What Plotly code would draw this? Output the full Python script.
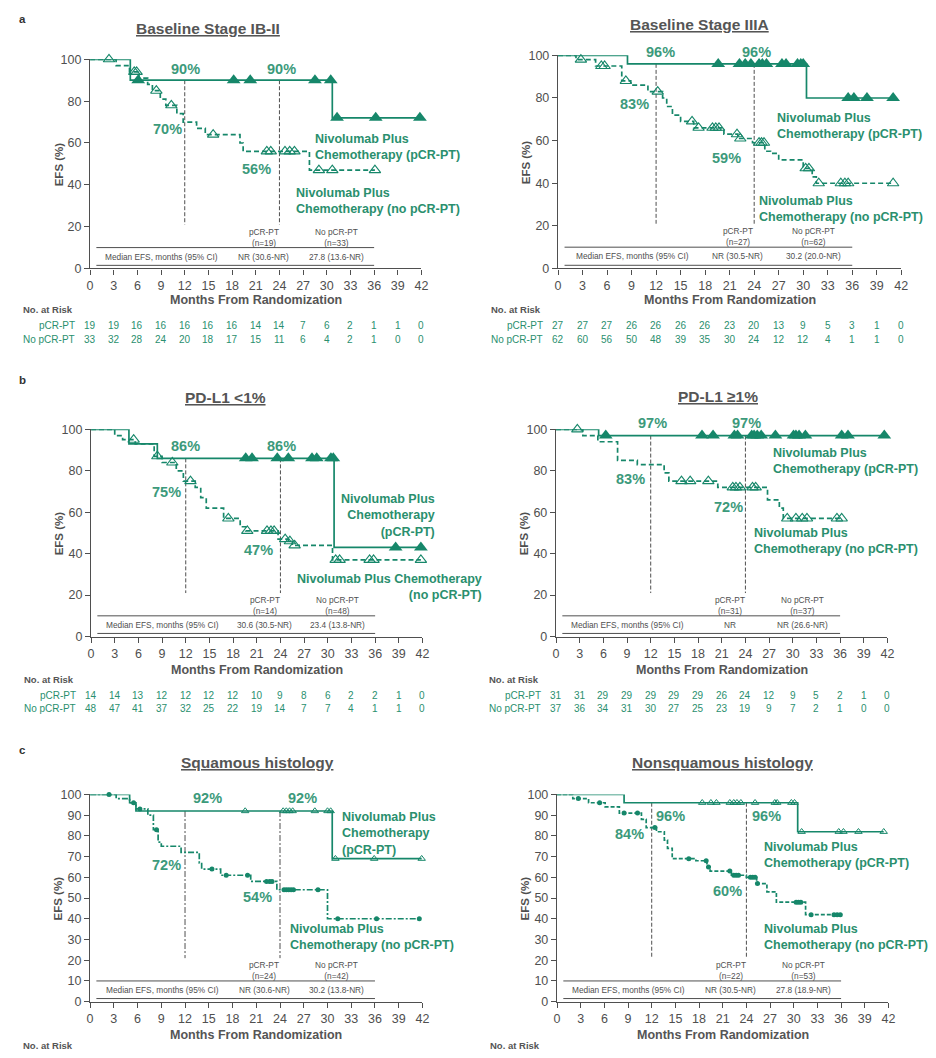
import numpy as np
import plotly.graph_objects as go

W, H = 936, 1058
GREEN = "#16876a"
GREEN_TXT = "#2a8f6e"
PCT_TXT = "#3c9a7b"
INK = "#4f4f4f"
FONT = "Liberation Sans"

months = list(range(0, 43, 3))
landmark_months = [12, 24]

# ---------------- a: baseline stage IB-II ----------------
ib_pcr_t = [5.1, 30.7]
ib_pcr_s = [90, 72]
ib_pcr_c = [6.1, 18.2, 20.3, 28.5, 30.5, 31.3, 36.2, 41.8]
ib_nopcr_t = [3.3, 5.0, 6.2, 7.3, 7.9, 8.9, 9.6, 11.0, 11.8, 13.5, 14.6, 19.0, 19.4, 27.8]
ib_nopcr_s = [97, 94, 91, 88, 85, 81, 78, 74, 70, 67, 64, 60, 56, 47]
ib_nopcr_c = [2.4, 5.6, 5.9, 8.4, 10.3, 15.6, 22.4, 22.9, 24.7, 25.3, 25.9, 29.0, 30.7, 36.1]
ib_efs_pcr = [90, 90]
ib_efs_nopcr = [70, 56]
ib_n = [19, 33]
ib_median = ["NR (30.6-NR)", "27.8 (13.6-NR)"]
ib_risk_pcr = [19, 19, 16, 16, 16, 16, 16, 14, 14, 7, 6, 2, 1, 1, 0]
ib_risk_nopcr = [33, 32, 28, 24, 20, 18, 17, 15, 11, 6, 4, 2, 1, 0, 0]

# ---------------- a: baseline stage IIIA ----------------
iiia_pcr_t = [8.5, 30.4]
iiia_pcr_s = [96, 80]
iiia_pcr_c = [19.6, 22.2, 22.9, 23.6, 24.6, 25.0, 25.5, 27.4, 27.9, 29.3, 29.7, 30.0,
              35.5, 36.2, 37.8, 41.0]
iiia_nopcr_t = [2.2, 4.6, 7.8, 8.9, 11.0, 12.8, 13.3, 14.0, 15.0, 16.6, 20.3, 22.0,
                23.8, 25.3, 26.0, 27.0, 30.0, 31.1, 31.6]
iiia_nopcr_s = [98, 95, 88, 86, 83, 80, 76, 72, 69, 66, 63, 61, 59, 55, 54, 51, 47, 43, 40]
iiia_nopcr_c = [2.8, 5.3, 5.7, 8.3, 12.2, 16.4, 17.2, 18.9, 19.3, 19.7, 21.9, 22.3,
                24.6, 24.9, 25.2, 30.3, 30.7, 31.9, 34.6, 35.1, 35.5, 41.0]
iiia_efs_pcr = [96, 96]
iiia_efs_nopcr = [83, 59]
iiia_n = [27, 62]
iiia_median = ["NR (30.5-NR)", "30.2 (20.0-NR)"]
iiia_risk_pcr = [27, 27, 27, 26, 26, 26, 26, 23, 20, 13, 9, 5, 3, 1, 0]
iiia_risk_nopcr = [62, 60, 56, 50, 48, 39, 35, 30, 24, 12, 12, 4, 1, 1, 0]

# ---------------- b: PD-L1 <1% ----------------
neg_pcr_t = [4.8, 8.4, 30.8]
neg_pcr_s = [93, 86, 43]
neg_pcr_c = [19.6, 20.4, 23.6, 25.0, 28.0, 28.6, 30.4, 30.7, 38.6, 41.8]
neg_nopcr_t = [3.0, 4.0, 5.6, 8.0, 9.0, 10.8, 11.7, 13.2, 13.9, 14.6, 16.8, 18.9,
               19.6, 23.7, 25.0, 25.5, 30.6]
neg_nopcr_s = [97, 95, 93, 87, 84, 80, 75, 72, 67, 62, 57, 53, 51, 47, 46, 44, 37]
neg_nopcr_c = [5.4, 8.4, 10.3, 12.6, 17.4, 19.8, 22.3, 22.8, 23.2, 24.6, 25.2, 25.8,
               31.0, 31.5, 35.3, 35.8, 41.8]
neg_efs_pcr = [86, 86]
neg_efs_nopcr = [75, 47]
neg_n = [14, 48]
neg_median = ["30.6 (30.5-NR)", "23.4 (13.8-NR)"]
neg_risk_pcr = [14, 14, 13, 12, 12, 12, 12, 10, 9, 8, 6, 2, 2, 1, 0]
neg_risk_nopcr = [48, 47, 41, 37, 32, 25, 22, 19, 14, 7, 7, 4, 1, 1, 0]

# ---------------- b: PD-L1 >=1% ----------------
pos_pcr_t = [5.4]
pos_pcr_s = [97]
pos_pcr_c = [6.3, 18.5, 19.9, 22.6, 23.0, 24.8, 25.1, 25.5, 26.0, 27.8, 30.1, 30.4,
             30.8, 31.6, 36.2, 37.0, 41.6]
pos_nopcr_t = [3.4, 5.3, 7.8, 10.3, 13.7, 14.3, 20.5, 26.8, 28.3, 28.8]
pos_nopcr_s = [97, 94, 85, 83, 79, 75, 72, 66, 62, 57]
pos_nopcr_c = [2.7, 15.9, 17.0, 19.3, 22.4, 22.8, 23.3, 24.9, 25.3, 29.3, 30.4, 31.2,
               31.8, 35.6, 36.2]
pos_efs_pcr = [97, 97]
pos_efs_nopcr = [83, 72]
pos_n = [31, 37]
pos_median = ["NR", "NR (26.6-NR)"]
pos_risk_pcr = [31, 31, 29, 29, 29, 29, 29, 26, 24, 12, 9, 5, 2, 1, 0]
pos_risk_nopcr = [37, 36, 34, 31, 30, 27, 25, 23, 19, 9, 7, 2, 1, 0, 0]

# ---------------- c: squamous histology ----------------
sq_pcr_t = [5.0, 5.8, 30.6]
sq_pcr_s = [96, 92, 69]
sq_pcr_c = [19.6, 24.4, 24.8, 25.2, 25.6, 28.4, 30.0, 30.4, 31.0, 35.9, 41.9]
sq_nopcr_t = [3.3, 5.0, 5.8, 7.3, 8.0, 8.6, 9.0, 11.5, 13.8, 14.1, 16.5, 20.3, 23.6, 30.0]
sq_nopcr_s = [98, 96, 93, 90, 83, 77, 75, 72, 67, 64, 61, 58, 54, 40]
sq_nopcr_c = [2.4, 5.5, 6.3, 8.4, 15.4, 17.2, 19.9, 22.3, 22.7, 23.0, 24.5, 24.8, 25.1,
              25.4, 25.7, 28.8, 31.3, 36.2, 41.6]
sq_efs_pcr = [92, 92]
sq_efs_nopcr = [72, 54]
sq_n = [24, 42]
sq_median = ["NR (30.6-NR)", "30.2 (13.8-NR)"]

# ---------------- c: nonsquamous histology ----------------
nsq_pcr_t = [8.5, 30.5]
nsq_pcr_s = [96, 82]
nsq_pcr_c = [18.4, 19.5, 20.2, 21.9, 22.4, 22.8, 23.3, 25.1, 27.6, 27.9, 29.7, 30.1,
             31.0, 35.7, 36.3, 38.2, 41.4]
nsq_nopcr_t = [2.0, 4.0, 6.1, 7.9, 10.7, 11.3, 12.6, 13.6, 14.0, 14.6, 17.6, 19.0, 19.4,
               22.1, 24.0, 25.3, 26.6, 27.8, 31.5]
nsq_nopcr_s = [98, 96, 94, 91, 88, 84, 82, 78, 74, 69, 68, 65, 63, 61, 60, 57, 53, 48, 42]
nsq_nopcr_c = [2.7, 5.4, 8.5, 10.2, 12.4, 16.7, 18.9, 19.2, 21.9, 22.4, 22.7, 23.0, 24.5,
               24.8, 25.1, 25.4, 30.3, 30.6, 30.9, 32.2, 35.1, 35.5, 35.9]
nsq_efs_pcr = [96, 96]
nsq_efs_nopcr = [84, 60]
nsq_n = [22, 53]
nsq_median = ["NR (30.5-NR)", "27.8 (18.9-NR)"]

LEG2 = "Nivolumab Plus<br>Chemotherapy (pCR-PT)"
LEG2N = "Nivolumab Plus<br>Chemotherapy (no pCR-PT)"
LEG3 = "Nivolumab Plus<br>Chemotherapy<br>(pCR-PT)"

# panel set-up: pixel boxes of the plotting areas, label placements, styles
panels = [
    dict(title="Baseline Stage IB-II", title_xy=(207, 22), box=(88, 423, 53, 265), ystep=20,
         pcr=(ib_pcr_t, ib_pcr_s, ib_pcr_c), nopcr=(ib_nopcr_t, ib_nopcr_s, ib_nopcr_c),
         efs=(ib_efs_pcr, ib_efs_nopcr), n=ib_n, median=ib_median,
         risk=(ib_risk_pcr, ib_risk_nopcr), style="ab",
         pct_pos=[(12.1, 95.5), (24.2, 95.5), (9.8, 66.5), (21.1, 47.5)],
         leg=[(28.2, 58, "left", LEG2), (25.9, 32.5, "left", LEG2N)]),
    dict(title="Baseline Stage IIIA", title_xy=(704, 18), box=(561, 908, 49, 265), ystep=20,
         pcr=(iiia_pcr_t, iiia_pcr_s, iiia_pcr_c), nopcr=(iiia_nopcr_t, iiia_nopcr_s, iiia_nopcr_c),
         efs=(iiia_efs_pcr, iiia_efs_nopcr), n=iiia_n, median=iiia_median,
         risk=(iiia_risk_pcr, iiia_risk_nopcr), style="ab",
         pct_pos=[(12.6, 101.5), (24.3, 101.5), (9.35, 77), (20.6, 52)],
         leg=[(26.5, 67, "left", LEG2), (24.3, 28, "left", LEG2N)]),
    dict(title="PD-L1 &lt;1%", title_xy=(225, 396), box=(89, 424, 428, 638), ystep=20,
         pcr=(neg_pcr_t, neg_pcr_s, neg_pcr_c), nopcr=(neg_nopcr_t, neg_nopcr_s, neg_nopcr_c),
         efs=(neg_efs_pcr, neg_efs_nopcr), n=neg_n, median=neg_median,
         risk=(neg_risk_pcr, neg_risk_nopcr), style="ab",
         pct_pos=[(12.0, 92), (24.1, 92), (9.6, 70), (21.2, 42)],
         leg=[(43.8, 58.5, "right", LEG3),
              (49.8, 23.8, "right", "Nivolumab Plus Chemotherapy<br>(no pCR-PT)")]),
    dict(title="PD-L1 ≥1%", title_xy=(723, 395), box=(559, 894, 428, 638), ystep=20,
         pcr=(pos_pcr_t, pos_pcr_s, pos_pcr_c), nopcr=(pos_nopcr_t, pos_nopcr_s, pos_nopcr_c),
         efs=(pos_efs_pcr, pos_efs_nopcr), n=pos_n, median=pos_median,
         risk=(pos_risk_pcr, pos_risk_nopcr), style="ab",
         pct_pos=[(12.2, 103), (24.1, 103), (9.5, 76), (21.8, 62.5)],
         leg=[(27.2, 84.6, "left", LEG2), (24.8, 46.2, "left", LEG2N)]),
    dict(title="Squamous histology", title_xy=(257, 766), box=(88, 424, 798, 1008), ystep=10,
         pcr=(sq_pcr_t, sq_pcr_s, sq_pcr_c), nopcr=(sq_nopcr_t, sq_nopcr_s, sq_nopcr_c),
         efs=(sq_efs_pcr, sq_efs_nopcr), n=sq_n, median=sq_median,
         risk=None, style="c1",
         pct_pos=[(14.8, 98.4), (26.8, 98.4), (9.6, 66), (21.1, 50.3)],
         leg=[(31.6, 81, "left", LEG3), (25.0, 31, "left", LEG2N)]),
    dict(title="Nonsquamous histology", title_xy=(727, 766), box=(560, 895, 798, 1008), ystep=10,
         pcr=(nsq_pcr_t, nsq_pcr_s, nsq_pcr_c), nopcr=(nsq_nopcr_t, nsq_nopcr_s, nsq_nopcr_c),
         efs=(nsq_efs_pcr, nsq_efs_nopcr), n=nsq_n, median=nsq_median,
         risk=None, style="c2",
         pct_pos=[(14.4, 89.7), (26.6, 89.7), (9.2, 81), (21.6, 53.2)],
         leg=[(26.0, 71, "left", LEG2), (26.0, 31, "left", LEG2N)]),
]

# section letters and rows of the risk tables (pixel rows)
sections = [("a", 12, 297, 307, 323, 337), ("b", 378, 672, 682, 698, 711),
            ("c", 753, 1042, 1052, None, None)]

STYLES = {
    "ab": dict(pcr_dash="solid", pcr_marker=dict(symbol="triangle-up", size=12, color=GREEN),
               nopcr_dash="5px,3px",
               nopcr_marker=dict(symbol="triangle-up-open", size=10, color=GREEN,
                                 line=dict(width=1.1, color=GREEN)),
               vdash="4px,2px"),
    "c1": dict(pcr_dash="solid",
               pcr_marker=dict(symbol="triangle-up-open", size=6.5, color=GREEN,
                               line=dict(width=1, color=GREEN)),
               nopcr_dash="6px,2px,2px,2px",
               nopcr_marker=dict(symbol="circle", size=5, color=GREEN),
               vdash="6px,2px,2px,2px"),
    "c2": dict(pcr_dash="solid",
               pcr_marker=dict(symbol="triangle-up-open", size=6.5, color=GREEN,
                               line=dict(width=1, color=GREEN)),
               nopcr_dash="4px,2px",
               nopcr_marker=dict(symbol="circle", size=5, color=GREEN),
               vdash="4px,2px"),
}


def px(x):
    return x / W


def py(y):
    return 1 - y / H


def km_value(times, surv, t):
    levels = np.concatenate([[100.0], np.asarray(surv, float)])
    idx = np.searchsorted(np.asarray(times, float), np.asarray(t, float), side="right")
    return levels[idx]


fig = go.Figure()
ann = []
axes = {}


def text(x, y, s, size, color=INK, xref="paper", yref="paper", xanchor="center",
         yanchor="middle", align="center", bold=False, angle=0, under=False):
    f = dict(family=FONT, size=size, color=color)
    if bold:
        f["weight"] = "bold"
    if under:
        f["lineposition"] = "under"
    ann.append(dict(x=x, y=y, xref=xref, yref=yref, text=s, showarrow=False, font=f,
                    xanchor=xanchor, yanchor=yanchor, align=align, textangle=angle))


for i, p in enumerate(panels, start=1):
    sfx = "" if i == 1 else str(i)
    xr, yr = f"x{sfx}", f"y{sfx}"
    x0, x1, y0, y1 = p["box"]

    def dpos(mx, ev):
        # month / EFS value -> paper coordinates of this panel (labels may sit outside the axes)
        return px(x0 + mx * (x1 - x0) / 42), py(y1 - ev * (y1 - y0) / 100)

    axis_common = dict(showline=True, linecolor=INK, linewidth=1.4, ticks="outside",
                       ticklen=5, tickwidth=1.3, tickcolor=INK, showgrid=False,
                       zeroline=False, fixedrange=True,
                       tickfont=dict(family=FONT, size=12.5, color=INK))
    axes[f"xaxis{sfx}"] = dict(domain=[px(x0), px(x1)], anchor=yr, range=[0, 42],
                               tickvals=months, **axis_common)
    axes[f"yaxis{sfx}"] = dict(domain=[py(y1), py(y0)], anchor=xr, range=[0, 100],
                               tick0=0, dtick=p["ystep"], **axis_common)
    st = STYLES[p["style"]]

    # median EFS table rules and landmark lines
    fig.add_trace(go.Scatter(x=[0.8, 36, None, 0.8, 36], y=[10, 10, None, 1.5, 1.5],
                             xaxis=xr, yaxis=yr, mode="lines",
                             line=dict(color=INK, width=1), hoverinfo="skip"))
    efs_pcr, efs_nopcr = p["efs"]
    fig.add_trace(go.Scatter(x=[landmark_months[0], landmark_months[0], None,
                                landmark_months[1], landmark_months[1]],
                             y=[efs_pcr[0], 21, None, efs_pcr[1], 21],
                             xaxis=xr, yaxis=yr, mode="lines",
                             line=dict(color=INK, width=1, dash=st["vdash"]), hoverinfo="skip"))

    # Kaplan-Meier step curves with censor marks
    for key in ("nopcr", "pcr"):
        t, s, c = p[key]
        end = max(c[-1], t[-1])
        fig.add_trace(go.Scatter(x=[0] + list(t) + [end], y=[100] + list(s) + [s[-1]],
                                 xaxis=xr, yaxis=yr, mode="lines",
                                 line=dict(shape="hv", color=GREEN, width=1.7,
                                           dash=st[f"{key}_dash"]),
                                 hoverinfo="skip"))
        fig.add_trace(go.Scatter(x=c, y=km_value(t, s, c), xaxis=xr, yaxis=yr,
                                 mode="markers", marker=st[f"{key}_marker"],
                                 cliponaxis=False, hoverinfo="skip"))

    # landmark EFS labels
    vals = [efs_pcr[0], efs_pcr[1], efs_nopcr[0], efs_nopcr[1]]
    for (lx, ly), v in zip(p["pct_pos"], vals):
        ax_, ay_ = dpos(lx, ly)
        text(ax_, ay_, f"{v}%", 14.5, PCT_TXT, bold=True)

    # curve labels
    for lx, ly, anchor, s in p["leg"]:
        ax_, ay_ = dpos(lx, ly)
        text(ax_, ay_, s, 12.5, GREEN_TXT, xanchor=anchor, align=anchor, bold=True)

    # median EFS table
    for mx, ev, s in ((9.1, 5.7, "Median EFS, months (95% CI)"),
                      (22.0, 5.7, p["median"][0]), (31.2, 5.7, p["median"][1]),
                      (22.0, 15.0, f"pCR-PT<br>(n={p['n'][0]})"),
                      (31.2, 15.0, f"No pCR-PT<br>(n={p['n'][1]})")):
        ax_, ay_ = dpos(mx, ev)
        text(ax_, ay_, s, 8.3, INK)

    # titles and axis titles
    tx, ty = p["title_xy"]
    text(px(tx), py(ty), p["title"], 15.5, "#555555", bold=True, under=True)
    text(px(x0 - 32), py((y0 + y1) / 2), "EFS (%)", 11.5, INK, bold=True, angle=-90)

    sec = sections[(i - 1) // 2]
    text(px((x0 + x1) / 2), py(sec[2]), "Months From Randomization", 12.5, "#555555", bold=True)
    text(px(x0 - 70), py(sec[3]), "No. at Risk", 9.5, "#555555", xanchor="left", bold=True)
    if p["risk"] is not None:
        for row_y, label, counts in ((sec[4], "pCR-PT", p["risk"][0]),
                                     (sec[5], "No pCR-PT", p["risk"][1])):
            text(px(x0 - 13), py(row_y), label, 10, GREEN_TXT, xanchor="right")
            for m, n in zip(months, counts):
                text(m, py(row_y), str(n), 10, GREEN_TXT, xref=xr)

for letter, ly, *_ in sections:
    text(px(20), py(ly), letter, 11.5, "#333333", bold=True)

fig.update_layout(width=W, height=H, margin=dict(l=0, r=0, t=0, b=0),
                  paper_bgcolor="white", plot_bgcolor="white", showlegend=False,
                  annotations=ann, **axes)
fig.write_html("out.html")
